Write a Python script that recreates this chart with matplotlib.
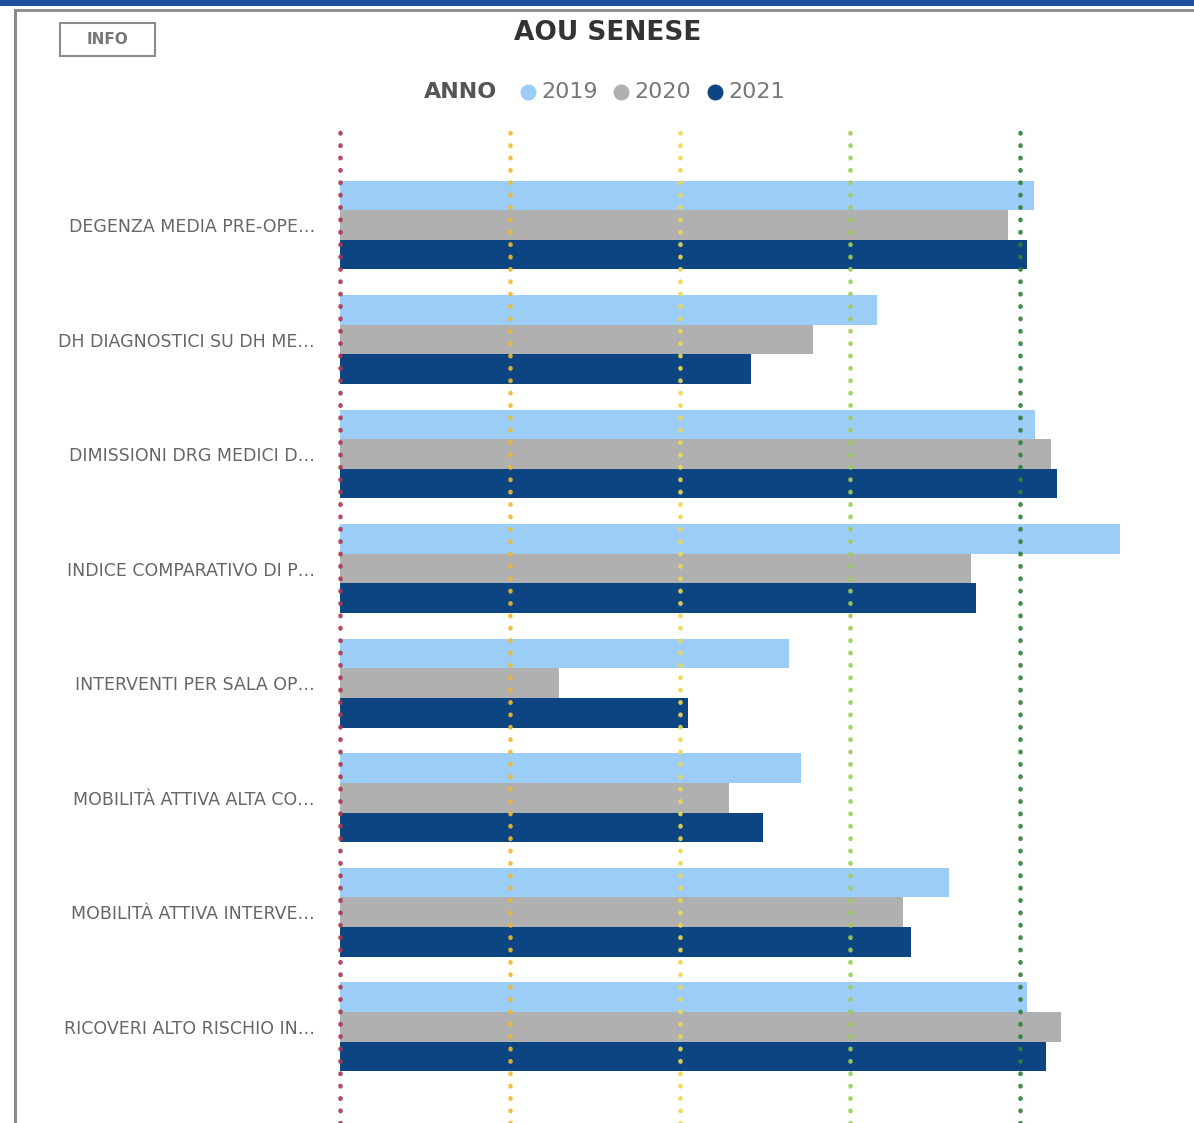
import matplotlib.pyplot as plt
from matplotlib.patches import Rectangle
from matplotlib.lines import Line2D
import numpy as np

# categorie (etichette troncate come nel report)
categories = [
    "DEGENZA MEDIA PRE-OPE…",
    "DH DIAGNOSTICI SU DH ME…",
    "DIMISSIONI DRG MEDICI D…",
    "INDICE COMPARATIVO DI P…",
    "INTERVENTI PER SALA OP…",
    "MOBILITÀ ATTIVA ALTA CO…",
    "MOBILITÀ ATTIVA INTERVE…",
    "RICOVERI ALTO RISCHIO IN…",
]
years = ["2019", "2020", "2021"]
val_2019 = [4.08, 3.16, 4.09, 4.59, 2.64, 2.71, 3.58, 4.04]
val_2020 = [3.93, 2.78, 4.18, 3.71, 1.29, 2.29, 3.31, 4.24]
val_2021 = [4.04, 2.42, 4.22, 3.74, 2.05, 2.49, 3.36, 4.15]
thresholds = [0, 1, 2, 3, 4]

colors = ["#9ccdf7", "#b0b0b0", "#0d4482"]
line_colors = ["#a8394c", "#f0b82e", "#efd94a", "#9fce55", "#2f7f3c"]

W, H = 1194, 1123
fig = plt.figure(figsize=(W / 100, H / 100), dpi=100)

# cornice del report
fig.add_artist(Rectangle((0, 1 - 6 / H), 1, 6 / H, transform=fig.transFigure,
                         color="#1f4f9e", lw=0))
fig.add_artist(Line2D([15 / W, 1], [1 - 10 / H, 1 - 10 / H], transform=fig.transFigure,
                      color="#8a8a8a", lw=2))
fig.add_artist(Line2D([15 / W, 15 / W], [0, 1 - 10 / H], transform=fig.transFigure,
                      color="#8a8a8a", lw=2.2))

# pulsante INFO
fig.add_artist(Rectangle((60 / W, 1 - 56 / H), 95 / W, 33 / H, transform=fig.transFigure,
                         fill=False, ec="#8c8c8c", lw=1.5))
fig.text(107 / W, 1 - 40 / H, "INFO", ha="center", va="center", fontsize=11,
         fontweight="bold", color="#777777")

# titolo e legenda
fig.text(608 / W, 1 - 33 / H, "AOU SENESE", ha="center", va="center", fontsize=19,
         fontweight="bold", color="#333333")
fig.text(461 / W, 1 - 92 / H, "ANNO", ha="center", va="center", fontsize=16,
         fontweight="bold", color="#555555")
leg_x = [528, 621, 715]
for x, y, c in zip(leg_x, years, colors):
    fig.add_artist(Line2D([x / W], [1 - 92 / H], transform=fig.transFigure, marker="o",
                          markersize=10.5, color=c, lw=0))
    fig.text((x + 13) / W, 1 - 92 / H, y, ha="left", va="center", fontsize=16,
             color="#777777")

ax = fig.add_axes([340 / W, 0, 840 / W, (H - 130) / H])
y = np.arange(len(categories))
bw = 0.258
ax.barh(y - bw, val_2019, height=bw, color=colors[0], zorder=2)
ax.barh(y, val_2020, height=bw, color=colors[1], zorder=2)
ax.barh(y + bw, val_2021, height=bw, color=colors[2], zorder=2)

for t, c in zip(thresholds, line_colors):
    ax.axvline(t, color=c, lw=3.3, linestyle=(0, (0.1, 2.6)), dash_capstyle="round",
               zorder=3, alpha=0.9, clip_on=False)

ax.set_xlim(0, 840 / 170)
ax.set_ylim(7.84, -0.83)
ax.set_yticks(y)
ax.set_yticklabels(categories, fontsize=12.5, color="#666666")
ax.tick_params(axis="y", length=0, pad=18)
ax.set_xticks([])
for s in ax.spines.values():
    s.set_visible(False)

plt.savefig("out.png", dpi=100)
